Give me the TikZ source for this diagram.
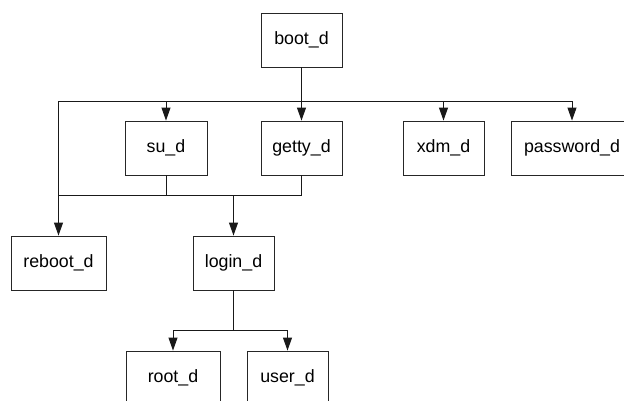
\documentclass[tikz,border=0pt]{standalone}
\usepackage{fontspec}
\setmainfont{Liberation Sans}
\usetikzlibrary{arrows.meta}
\begin{document}
\begin{tikzpicture}[x=1pt,y=-1pt,
  proc/.style={draw=black!85, fill=white, line width=0.9pt, minimum height=54pt,
    inner sep=0pt, font=\fontsize{17.8}{20}\selectfont},
  link/.style={draw=black!90, line width=1pt},
  arr/.style={link, -{Triangle[width=9pt,length=13pt]}}]
\useasboundingbox (0,0) rectangle (624,400);
\fill[white] (0,0) rectangle (624,400);

% daemons
\node[proc, minimum width=81pt]  (boot)     at (301.5,40)  {boot\_d};
\node[proc, minimum width=82pt]  (su)       at (166,148)   {su\_d};
\node[proc, minimum width=81pt]  (getty)    at (301.5,148) {getty\_d};
\node[proc, minimum width=81pt]  (xdm)      at (443.5,148) {xdm\_d};
\node[proc, minimum width=122pt] (password) at (572,148)   {password\_d};
\node[proc, minimum width=95pt]  (reboot)   at (58.5,263)  {reboot\_d};
\node[proc, minimum width=81pt]  (login)    at (233.5,263) {login\_d};
\node[proc, minimum width=94pt]  (root)     at (173,378)   {root\_d};
\node[proc, minimum width=81pt]  (user)     at (287.5,378) {user\_d};

% bus levels
\coordinate (bus) at (0,101);
\coordinate (sub) at (0,195);
\coordinate (low) at (0,330);

% boot_d fans out to its children
\draw[link] (boot.south) -- (boot.south |- bus);
\draw[arr] (reboot.north |- bus) -- (password.north |- bus) -- (password.north);
\draw[arr] (su.north |- bus) -- (su.north);
\draw[arr] (getty.north |- bus) -- (getty.north);
\draw[arr] (xdm.north |- bus) -- (xdm.north);
\draw[arr] (reboot.north |- bus) -- (reboot.north);

% su_d and getty_d lead to login_d
\draw[link] (su.south) -- (su.south |- sub);
\draw[link] (getty.south) -- (getty.south |- sub) -- (reboot.north |- sub);
\draw[arr] (login.north |- sub) -- (login.north);

% login_d branches to root_d and user_d
\draw[link] (login.south) -- (login.south |- low);
\draw[arr] (root.north |- low) -- (user.north |- low) -- (user.north);
\draw[arr] (root.north |- low) -- (root.north);
\end{tikzpicture}
\end{document}
